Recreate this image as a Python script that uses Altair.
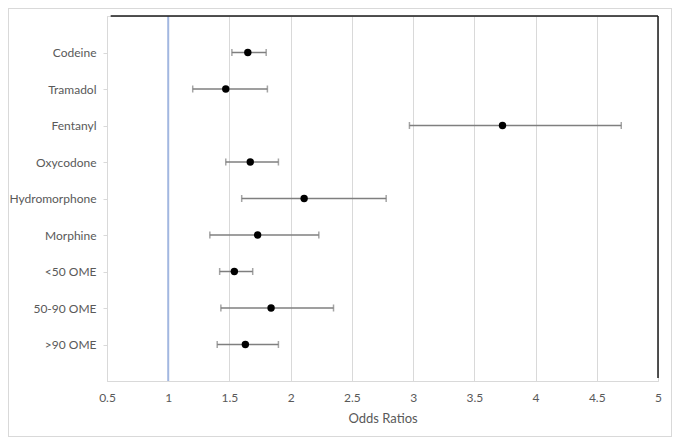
import altair as alt
import pandas as pd

names = ["Codeine", "Tramadol", "Fentanyl", "Oxycodone", "Hydromorphone",
         "Morphine", "<50 OME", "50-90 OME", ">90 OME"]
odds = [1.65, 1.47, 3.73, 1.67, 2.11, 1.73, 1.54, 1.84, 1.63]
lower = [1.52, 1.20, 2.97, 1.47, 1.60, 1.34, 1.42, 1.43, 1.40]
upper = [1.80, 1.81, 4.70, 1.90, 2.78, 2.23, 1.69, 2.35, 1.90]
x_ticks = [0.5, 1, 1.5, 2, 2.5, 3, 3.5, 4, 4.5, 5]

df = pd.DataFrame({"name": names, "or": odds, "lo": lower, "hi": upper})

FONT = "Lato"
GREY_TXT = "#595959"
GRID = "#d9d9d9"
W, H = 551, 365

xscale = alt.Scale(domain=[0.5, 5], nice=False, zero=False)
yscale = alt.Scale(type="point", padding=1)

x_axis = alt.Axis(values=x_ticks, format=".1~f", title="Odds Ratios",
                  grid=True, gridColor=GRID, gridWidth=1, labelFlush=False,
                  ticks=False, tickSize=0, domainColor=GRID, domainWidth=1,
                  labelPadding=11, labelFontSize=12, labelColor=GREY_TXT,
                  labelFont=FONT, titleFont=FONT, titleFontSize=13,
                  titleFontWeight="normal", titleColor=GREY_TXT, titlePadding=9)
y_axis = alt.Axis(title=None, grid=False, ticks=True, tickSize=4, tickColor=GRID,
                  domainColor=GRID, labelPadding=7, labelFontSize=12,
                  labelColor=GREY_TXT, labelFont=FONT)

base = alt.Chart(df)

frame = base.mark_rect(fill=None, stroke="#d9d9d9", strokeWidth=1).encode(
    x=alt.value(-98.5), x2=alt.value(564.5), y=alt.value(-7.5), y2=alt.value(420.5)
)

bars = base.mark_rule(color="#7f7f7f", strokeWidth=1.5).encode(
    x=alt.X("lo:Q", scale=xscale, axis=x_axis),
    x2="hi:Q",
    y=alt.Y("name:N", sort=names, scale=yscale, axis=y_axis),
)
caps_lo = base.mark_tick(color="#7f7f7f", thickness=1.5, size=7).encode(
    x=alt.X("lo:Q", scale=xscale), y=alt.Y("name:N", sort=names, scale=yscale))
caps_hi = base.mark_tick(color="#7f7f7f", thickness=1.5, size=7).encode(
    x=alt.X("hi:Q", scale=xscale), y=alt.Y("name:N", sort=names, scale=yscale))

ref = alt.Chart(pd.DataFrame({"v": [1]})).mark_rule(color="#a2b7e0", strokeWidth=2).encode(
    x=alt.X("v:Q", scale=xscale), y=alt.value(0), y2=alt.value(H))

top_line = alt.Chart(pd.DataFrame({"a": [0.53], "b": [5]})).mark_rule(
    color="#1a1a1a", strokeWidth=1.5).encode(
    x=alt.X("a:Q", scale=xscale), x2="b:Q", y=alt.value(0))
right_line = alt.Chart(pd.DataFrame({"a": [5]})).mark_rule(
    color="#1a1a1a", strokeWidth=1.5).encode(
    x=alt.X("a:Q", scale=xscale), y=alt.value(0), y2=alt.value(H - 3))

points = base.mark_circle(color="black", opacity=1, size=55).encode(
    x=alt.X("or:Q", scale=xscale), y=alt.Y("name:N", sort=names, scale=yscale))

chart = alt.layer(frame, bars, ref, caps_lo, caps_hi, top_line, right_line, points).properties(
    width=W, height=H,
    autosize=alt.AutoSizeParams(type="none"),
    padding={"left": 99, "top": 8, "right": 14, "bottom": 56},
).configure_view(stroke=None).configure(background="white")

chart.save("out.html", embed_options={"renderer": "svg", "actions": False})
